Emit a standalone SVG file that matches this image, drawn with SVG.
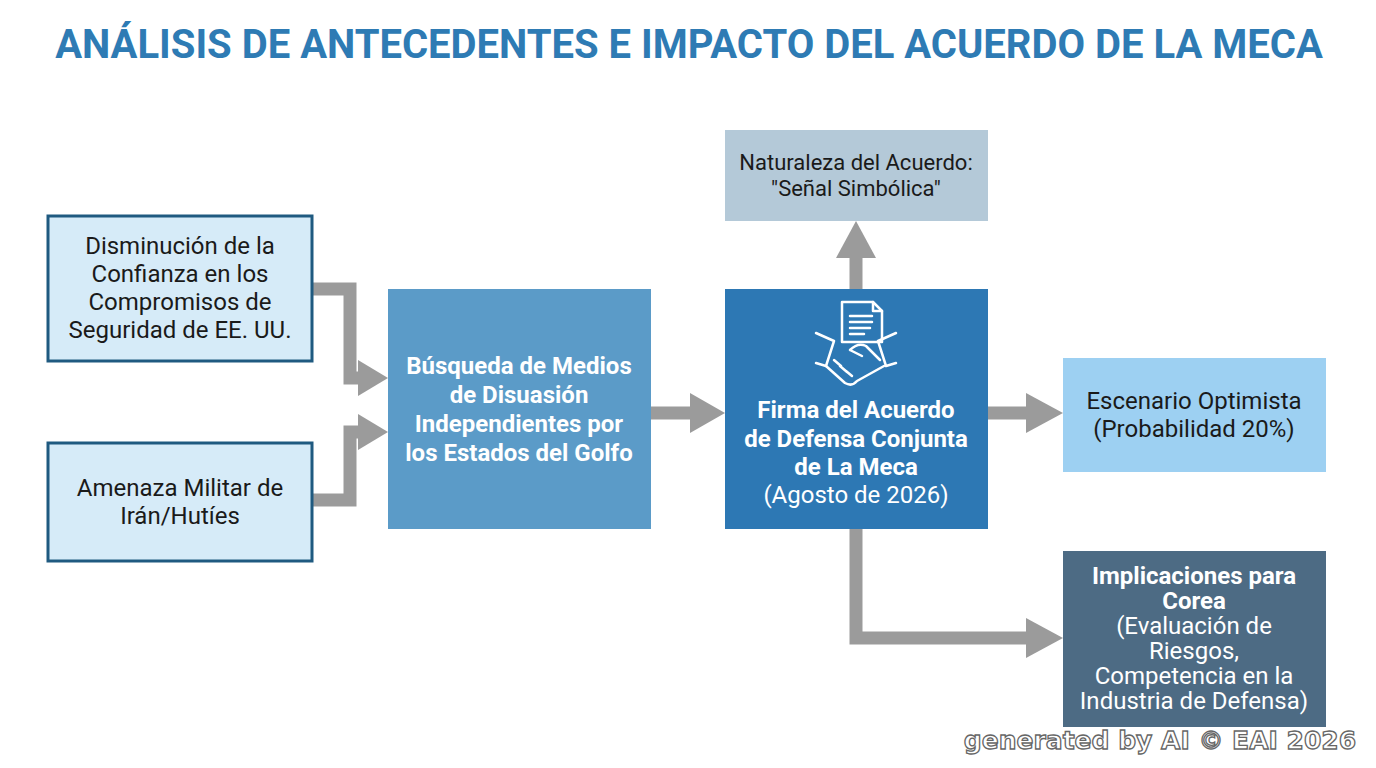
<svg xmlns="http://www.w3.org/2000/svg" width="1376" height="768" viewBox="0 0 1376 768">
<style>
.t{font-family:Roboto,"Liberation Sans",sans-serif;text-anchor:middle}
.d{font-size:24px;fill:#1a1a1a}
.w{font-size:24px;fill:#fff}
.b{font-weight:bold}
.ln{fill:none;stroke:#9b9b9b;stroke-width:13}
.ah{fill:#9b9b9b}
.ic{fill:none;stroke:#fff;stroke-width:2.5;stroke-linecap:round;stroke-linejoin:round}
</style>
<rect width="1376" height="768" fill="#fff"/>
<text x="689" y="58" class="t b" font-size="40" fill="#2E7BB4">ANÁLISIS DE ANTECEDENTES E IMPACTO DEL ACUERDO DE LA MECA</text>
<g id="connectors">
<polyline class="ln" points="312,289 350,289 350,378 360,378"/>
<polygon class="ah" points="388,378 358,360 358,396"/>
<polyline class="ln" points="312,500 350,500 350,432 360,432"/>
<polygon class="ah" points="388,432 358,414 358,450"/>
<line class="ln" x1="651" y1="413" x2="695" y2="413"/>
<polygon class="ah" points="725,413 690,393 690,433"/>
<line class="ln" x1="856" y1="289" x2="856" y2="255"/>
<polygon class="ah" points="856,221 836,258 876,258"/>
<line class="ln" x1="988" y1="413" x2="1030" y2="413"/>
<polygon class="ah" points="1063,413 1026,393 1026,433"/>
<polyline class="ln" points="856,529 856,638 1030,638"/>
<polygon class="ah" points="1063,638 1026,618 1026,658"/>
</g>
<g id="n1"><rect x="48" y="216" width="264" height="145" fill="#D6EBF8" stroke="#1F5A80" stroke-width="3"/>
<text class="t d" x="180" y="254">Disminución de la</text><text class="t d" x="180" y="282">Confianza en los</text><text class="t d" x="180" y="310">Compromisos de</text><text class="t d" x="180" y="338">Seguridad de EE. UU.</text></g>
<g id="n2"><rect x="48" y="443" width="264" height="118" fill="#D6EBF8" stroke="#1F5A80" stroke-width="3"/>
<text class="t d" x="180" y="496">Amenaza Militar de</text><text class="t d" x="180" y="524">Irán/Hutíes</text></g>
<g id="n3"><rect x="388" y="289" width="263" height="240" fill="#5B9BC8"/>
<text class="t w b" x="519" y="374">Búsqueda de Medios</text><text class="t w b" x="519" y="403">de Disuasión</text><text class="t w b" x="519" y="432">Independientes por</text><text class="t w b" x="519" y="461">los Estados del Golfo</text></g>
<g id="n4"><rect x="725" y="289" width="263" height="240" fill="#2D78B4"/>
<g class="ic"><path d="M842,302 H873 L882,311 V342 H842 Z"/><path d="M873,302 V311 H882"/><path d="M850,316 H872 M850,322 H872 M850,328 H870 M850,334 H864"/>
<path d="M816,333 L834,341 M896,333 L878,341 M834,341 L826,366 M878,341 L886,366 M816,363 L826,366 M896,363 L886,366"/>
<path d="M826,366 L845,383 Q852,387 857,381 L884,366 M850,350 Q858,342 866,346 L880,360 M850,350 L862,356 M834,360 l7,6 M840,366 l7,6 M846,371 l6,5"/></g>
<text class="t w b" x="856" y="418">Firma del Acuerdo</text><text class="t w b" x="856" y="447">de Defensa Conjunta</text><text class="t w b" x="856" y="475">de La Meca</text><text class="t w" x="856" y="503" fill="#dfeaf4">(Agosto de 2026)</text></g>
<g id="n5"><rect x="725" y="130" width="263" height="91" fill="#B4C9D8"/>
<text class="t" font-size="22" fill="#1a1a1a" x="856" y="170">Naturaleza del Acuerdo:</text><text class="t" font-size="22" fill="#1a1a1a" x="856" y="196">"Señal Simbólica"</text></g>
<g id="n6"><rect x="1063" y="358" width="263" height="114" fill="#9DD0F2"/>
<text class="t d" x="1194" y="409">Escenario Optimista</text><text class="t d" x="1194" y="437">(Probabilidad 20%)</text></g>
<g id="n7"><rect x="1063" y="551" width="263" height="176" fill="#4D6B84"/>
<text class="t w b" x="1194" y="584">Implicaciones para</text><text class="t w b" x="1194" y="609">Corea</text><text class="t w" x="1194" y="634">(Evaluación de</text><text class="t w" x="1194" y="659">Riesgos,</text><text class="t w" x="1194" y="684">Competencia en la</text><text class="t w" x="1194" y="709">Industria de Defensa)</text></g>
<text x="1160" y="749" font-family="DejaVu Sans,sans-serif" font-weight="bold" font-size="25" text-anchor="middle" fill="#fff" stroke="#666" stroke-width="1.3">generated by AI © EAI 2026</text>
</svg>
